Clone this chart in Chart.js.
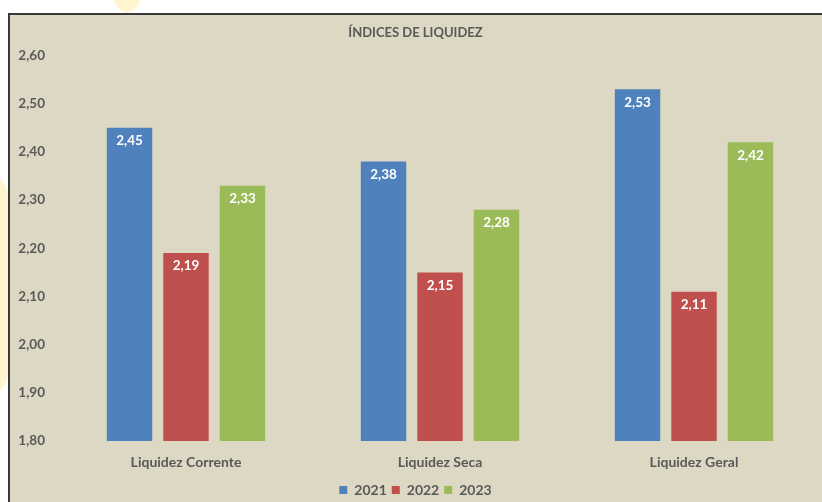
<!DOCTYPE html>
<html>
<head>
<meta charset="utf-8">
<script src="https://cdn.jsdelivr.net/npm/chart.js@4"></script>
<style>
    html, body { margin: 0; padding: 0; background: #FFFFFF; width: 822px; height: 502px; overflow: hidden; position: relative; }
    .mark { position: absolute; background: #FFF6CF; border-radius: 50%; }
    #box {
        position: absolute; left: 8px; top: 13px; width: 814px; height: 489px;
        background: #DDD8C3; border-left: 2px solid #3A3A3A; border-top: 2px solid #3A3A3A;
        box-sizing: border-box;
    }
    #box canvas { display: block; }
</style>
</head>
<body>
<div class="mark" style="left:112px; top:-30px; width:30px; height:42px;"></div>
<div class="mark" style="left:-20px; top:170px; width:28px; height:230px; border-radius:0 40px 40px 0;"></div>
<div id="box"><canvas id="c" width="812" height="487"></canvas></div>
<script>
// Dados do gráfico
const categorias = ['Liquidez Corrente', 'Liquidez Seca', 'Liquidez Geral'];
const anos = ['2021', '2022', '2023'];
const valores2021 = [2.45, 2.38, 2.53];
const valores2022 = [2.19, 2.15, 2.11];
const valores2023 = [2.33, 2.28, 2.42];
const cores = ['#4F81BD', '#C0504D', '#9BBB59'];

const FONTE = 'Lato, "Open Sans", sans-serif';
const COR_TEXTO = '#595959';
const fmt = v => v.toFixed(2).replace('.', ',');

// rótulos brancos dentro do topo das barras
const rotulos = {
    id: 'rotulos',
    afterDatasetsDraw(chart) {
        const ctx = chart.ctx;
        ctx.save();
        ctx.font = 'bold 13.5px ' + FONTE;
        ctx.fillStyle = '#FFFFFF';
        ctx.textAlign = 'center';
        ctx.textBaseline = 'middle';
        chart.data.datasets.forEach((ds, i) => {
            chart.getDatasetMeta(i).data.forEach((bar, j) => {
                ctx.fillText(fmt(ds.data[j]), bar.x, bar.y + 13);
            });
        });
        ctx.restore();
    }
};

const serie = [valores2021, valores2022, valores2023];

new Chart(document.getElementById('c'), {
    type: 'bar',
    data: {
        labels: categorias,
        datasets: anos.map((a, i) => ({
            label: a,
            data: serie[i],
            backgroundColor: cores[i],
            categoryPercentage: 0.667,
            barPercentage: 0.805
        }))
    },
    options: {
        responsive: false,
        animation: false,
        layout: { padding: { top: 4, right: 1, bottom: -5, left: 0 } },
        plugins: {
            title: {
                display: true,
                text: 'ÍNDICES DE LIQUIDEZ',
                color: COR_TEXTO,
                font: { family: FONTE, size: 13, weight: 'bold' },
                padding: { top: 6, bottom: 15 }
            },
            legend: {
                position: 'bottom',
                labels: {
                    color: COR_TEXTO,
                    font: { family: FONTE, size: 14, weight: 'bold' },
                    boxWidth: 8, boxHeight: 8, padding: 5
                }
            },
            tooltip: { enabled: false }
        },
        scales: {
            x: {
                grid: { display: false, drawTicks: false },
                border: { display: false },
                afterFit(s) { s.height = 37; },
                ticks: { color: COR_TEXTO, font: { family: FONTE, size: 14, weight: 'bold' }, padding: 13 }
            },
            y: {
                min: 1.8, max: 2.6,
                grid: { display: false },
                border: { display: false },
                afterFit(s) { s.width = 49; },
                ticks: {
                    stepSize: 0.1,
                    padding: 6,
                    color: COR_TEXTO,
                    font: { family: FONTE, size: 13.5, weight: 'bold' },
                    callback: v => fmt(v)
                }
            }
        }
    },
    plugins: [rotulos]
});
</script>
</body>
</html>
